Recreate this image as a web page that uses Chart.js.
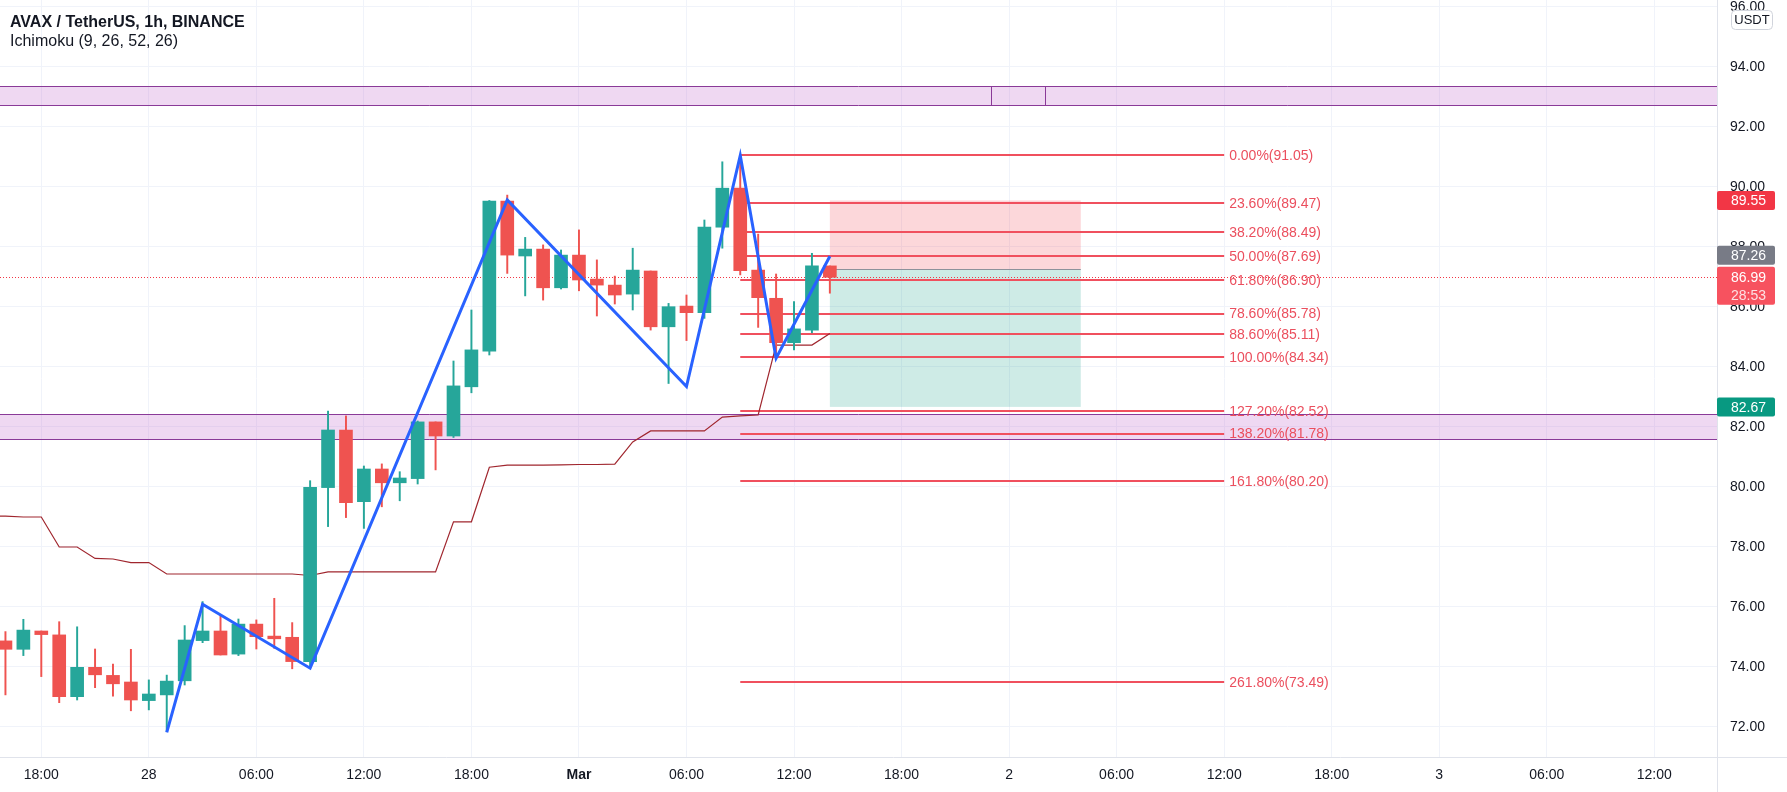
<!DOCTYPE html>
<html><head><meta charset="utf-8">
<script src="https://cdn.jsdelivr.net/npm/chart.js@4.4.0/dist/chart.umd.min.js"></script>
<style>html,body{margin:0;padding:0;background:#fff;overflow:hidden}canvas{display:block}</style>
</head><body>
<canvas id="c" width="1787" height="792"></canvas>
<script>
// ---------------- DATA ----------------
const chartTitle = 'AVAX / TetherUS, 1h, BINANCE';
const indicatorTitle = 'Ichimoku (9, 26, 52, 26)';
const quoteCurrency = 'USDT';

// hours relative to 27 Feb 18:00
const candleHours = [-2,-1,0,1,2,3,4,5,6,7,8,9,10,11,12,13,14,15,16,17,18,19,20,21,22,23,24,25,26,27,28,29,30,31,32,33,34,35,36,37,38,39,40,41,42,43,44];
const openPrices  = [74.87,74.59,75.20,75.07,73.01,73.99,73.72,73.50,72.88,73.07,73.54,74.88,75.20,74.43,75.43,75.03,74.99,74.18,79.98,81.90,79.51,80.60,80.14,80.28,82.17,81.70,83.34,84.53,89.53,87.70,87.93,86.64,87.73,86.93,86.73,86.43,87.20,85.34,86.03,85.81,88.66,89.96,87.23,86.29,84.81,85.23,87.37];
const highPrices  = [75.18,75.59,75.20,75.51,75.34,74.60,74.10,74.59,73.57,73.73,75.38,76.18,75.73,75.60,75.57,76.29,75.48,80.21,82.53,82.37,80.70,80.77,80.51,82.20,82.17,84.20,85.90,89.55,89.73,88.32,88.07,87.90,88.57,87.57,87.03,87.96,87.20,86.12,86.40,88.90,90.84,91.05,88.43,87.10,86.18,87.79,87.37];
const lowPrices   = [73.07,74.38,73.68,72.81,72.90,73.31,73.03,72.54,72.57,71.85,73.40,74.81,74.40,74.38,74.60,74.62,73.94,74.00,78.68,78.98,78.62,79.34,79.54,80.10,80.57,81.65,83.14,84.40,87.12,86.37,86.23,86.60,86.54,85.70,86.10,85.90,85.23,83.45,84.88,85.62,87.96,87.07,85.32,84.29,84.57,85.14,86.46];
const closePrices = [74.59,75.23,75.08,73.01,73.99,73.74,73.44,72.90,73.10,73.53,74.90,75.20,74.40,75.43,75.01,74.94,74.18,79.99,81.90,79.48,80.60,80.14,80.30,82.17,81.70,83.37,84.57,89.53,87.73,87.93,86.64,87.73,86.90,86.73,86.40,87.23,85.34,86.01,85.81,88.66,89.96,87.21,86.31,84.81,85.27,87.37,86.99];

const ichiHours  = [-3,-2,-1,0,1,2,3,4,5,6,7,8,9,10,11,12,13,14,15,16,17,18,19,20,21,22,23,24,25,26,27,28,29,30,31,32,33,34,35,36,37,38,39,40,41,42,43,44];
const ichiValues = [79.03,79.03,79.00,79.00,78.00,78.00,77.62,77.60,77.48,77.48,77.10,77.10,77.10,77.10,77.10,77.10,77.10,77.10,77.05,77.17,77.17,77.17,77.17,77.17,77.17,77.17,78.84,78.84,80.66,80.73,80.73,80.73,80.74,80.75,80.75,80.76,81.50,81.87,81.87,81.87,81.87,82.33,82.37,82.40,84.73,84.73,84.73,85.12];

const zigzagHours  = [7, 9, 15, 26, 36, 39, 41, 44];
const zigzagPrices = [71.82, 76.09, 73.96, 89.57, 83.35, 91.05, 84.29, 87.69];

const fibRatios = [0, 23.6, 38.2, 50, 61.8, 78.6, 88.6, 100, 127.2, 138.2, 161.8, 261.8];
const fibPrices = [91.05, 89.47, 88.49, 87.69, 86.90, 85.78, 85.11, 84.34, 82.52, 81.78, 80.20, 73.49];
const fibStartHour = 39, fibEndHour = 66;

const positionHours = [44, 58];
const stopPrice = 89.55, entryPrice = 87.26, targetPrice = 82.67;
const lastPrice = 86.99, countdownText = '28:53';

const zoneHigh = [93.37, 82.43];
const zoneLow  = [92.73, 81.59];
const zoneEdgeHours = [53, 56];

const timeTickHours  = [0,6,12,18,24,30,36,42,48,54,60,66,72,78,84,90];
const timeTickLabels = ['18:00','28','06:00','12:00','18:00','Mar','06:00','12:00','18:00','2','06:00','12:00','18:00','3','06:00','12:00'];
const priceTicks = [72,74,76,78,80,82,84,86,88,90,92,94,96];

// ---------------- STYLE / LAYOUT ----------------
const FONT = "'Liberation Sans', Arial, sans-serif";
const UP = '#26a69a', DOWN = '#ef5350', FIB = '#f0505e';
const X_MIN = -2.304, X_MAX = 93.50, Y_MIN = 71.0, Y_MAX = 96.233;

const candleColors = candleHours.map((h, i) => closePrices[i] >= openPrices[i] ? UP : DOWN);
const wickData = candleHours.map((h, i) => ({x: h, y: [lowPrices[i], highPrices[i]]}));
const bodyData = candleHours.map((h, i) => ({x: h, y: [openPrices[i], closePrices[i]]}));
const ichiData = ichiHours.map((h, i) => ({x: h, y: ichiValues[i]}));
const zzData = zigzagHours.map((h, i) => ({x: h, y: zigzagPrices[i]}));

function hline(ctx, x1, x2, y) { ctx.beginPath(); ctx.moveTo(x1, y); ctx.lineTo(x2, y); ctx.stroke(); }
function vline(ctx, x, y1, y2) { ctx.beginPath(); ctx.moveTo(x, y1); ctx.lineTo(x, y2); ctx.stroke(); }
const r5 = v => Math.round(v) + 0.5;

function roundRect(ctx, x, y, w, h, r) {
  ctx.beginPath();
  ctx.moveTo(x + r, y); ctx.lineTo(x + w - r, y); ctx.quadraticCurveTo(x + w, y, x + w, y + r);
  ctx.lineTo(x + w, y + h - r); ctx.quadraticCurveTo(x + w, y + h, x + w - r, y + h);
  ctx.lineTo(x + r, y + h); ctx.quadraticCurveTo(x, y + h, x, y + h - r);
  ctx.lineTo(x, y + r); ctx.quadraticCurveTo(x, y, x + r, y); ctx.closePath();
}

const overlay = {
  id: 'overlay',
  beforeDatasetsDraw(chart) {
    const {ctx, chartArea: a, scales: {x, y}} = chart;
    ctx.save();
    ctx.beginPath(); ctx.rect(a.left, a.top, a.right - a.left, a.bottom - a.top); ctx.clip();
    // purple zones
    zoneHigh.forEach((hi, i) => {
      const y1 = r5(y.getPixelForValue(hi)), y2 = r5(y.getPixelForValue(zoneLow[i]));
      ctx.fillStyle = 'rgba(190,100,205,0.25)';
      ctx.fillRect(a.left, y1, a.right - a.left, y2 - y1);
      ctx.strokeStyle = '#8a3a98'; ctx.lineWidth = 1;
      hline(ctx, a.left, a.right, y1); hline(ctx, a.left, a.right, y2);
      if (i === 0) zoneEdgeHours.forEach(h => vline(ctx, r5(x.getPixelForValue(h)), y1, y2));
    });
    // position tool
    const px1 = x.getPixelForValue(positionHours[0]), px2 = x.getPixelForValue(positionHours[1]);
    const ys = y.getPixelForValue(stopPrice), ye = y.getPixelForValue(entryPrice), yt = y.getPixelForValue(targetPrice);
    ctx.fillStyle = 'rgba(242,54,69,0.2)'; ctx.fillRect(px1, ys, px2 - px1, ye - ys);
    ctx.fillStyle = 'rgba(8,153,129,0.2)'; ctx.fillRect(px1, ye, px2 - px1, yt - ye);
    ctx.strokeStyle = '#8d929b'; ctx.lineWidth = 1; hline(ctx, px1, px2, r5(ye));
    // fib lines
    const fx1 = x.getPixelForValue(fibStartHour), fx2 = x.getPixelForValue(fibEndHour);
    ctx.strokeStyle = FIB; ctx.lineWidth = 2;
    fibPrices.forEach(p => hline(ctx, fx1, fx2, Math.round(y.getPixelForValue(p))));
    // current price dotted line
    ctx.strokeStyle = '#f23645'; ctx.lineWidth = 1; ctx.setLineDash([1, 2]);
    hline(ctx, a.left, a.right, r5(y.getPixelForValue(lastPrice)));
    ctx.setLineDash([]);
    ctx.restore();
  },
  afterDatasetsDraw(chart) {
    const {ctx, scales: {x, y}} = chart;
    ctx.save();
    ctx.font = '14px ' + FONT; ctx.fillStyle = '#eb4f5e'; ctx.textBaseline = 'middle'; ctx.textAlign = 'left';
    const fx2 = x.getPixelForValue(fibEndHour);
    fibRatios.forEach((r, i) => {
      ctx.fillText(r.toFixed(2) + '%(' + fibPrices[i].toFixed(2) + ')', fx2 + 5, y.getPixelForValue(fibPrices[i]) + 1);
    });
    ctx.restore();
  },
  afterDraw(chart) {
    const {ctx, chartArea: a, scales: {y}} = chart;
    ctx.save();
    // separators
    ctx.strokeStyle = '#e0e3eb'; ctx.lineWidth = 1;
    vline(ctx, a.right + 0.5, 0, chart.height);
    hline(ctx, 0, chart.width, a.bottom + 0.5);
    // USDT box
    ctx.fillStyle = '#ffffff'; roundRect(ctx, 1731, 10, 42, 20, 4); ctx.fill();
    ctx.strokeStyle = '#d1d4dc'; roundRect(ctx, 1731.5, 10.5, 41, 19, 4); ctx.stroke();
    ctx.fillStyle = '#131722'; ctx.font = '13px ' + FONT; ctx.textAlign = 'center'; ctx.textBaseline = 'middle';
    ctx.fillText(quoteCurrency, 1752, 20.5);
    // price tags
    const bx = a.right, bw = 58, bh = 19;
    const yLast = y.getPixelForValue(lastPrice);
    const lastTop = yLast - bh / 2 - 1;
    const tags = [
      {v: stopPrice, c: '#f23645'},
      {v: entryPrice, c: '#787b86', cap: lastTop - 2},
      {v: targetPrice, c: '#089981'}
    ];
    ctx.textAlign = 'left'; ctx.font = '14px ' + FONT;
    tags.forEach(t => {
      let top = y.getPixelForValue(t.v) - bh / 2;
      if (t.cap !== undefined && top + bh > t.cap) top = t.cap - bh;
      ctx.fillStyle = t.c; roundRect(ctx, bx, top, bw, bh, 2); ctx.fill();
      ctx.fillStyle = '#ffffff'; ctx.fillText(t.v.toFixed(2), 1731, top + bh / 2 + 1);
    });
    ctx.fillStyle = '#f7525f'; roundRect(ctx, bx, lastTop, bw, 38, 2); ctx.fill();
    ctx.fillStyle = '#ffffff';
    ctx.fillText(lastPrice.toFixed(2), 1731, yLast + 0.5);
    ctx.fillStyle = '#fde0e2';
    ctx.fillText(countdownText, 1731, yLast + 18.5);
    // titles
    ctx.fillStyle = '#131722'; ctx.textBaseline = 'alphabetic';
    ctx.font = 'bold 16px ' + FONT; ctx.fillText(chartTitle, 10, 27);
    ctx.font = '16px ' + FONT; ctx.fillText(indicatorTitle, 10, 46);
    ctx.restore();
  }
};

new Chart(document.getElementById('c'), {
  type: 'bar',
  data: {
    datasets: [
      {type: 'line', data: ichiData, borderColor: '#a0262e', borderWidth: 1.2, pointRadius: 0, tension: 0, order: 4},
      {type: 'bar', data: wickData, backgroundColor: candleColors, barThickness: 1.3, grouped: false, order: 3},
      {type: 'bar', data: bodyData, backgroundColor: candleColors, barThickness: 13, grouped: false, order: 2},
      {type: 'line', data: zzData, borderColor: '#2962ff', borderWidth: 3, pointRadius: 0, tension: 0, order: 1}
    ]
  },
  options: {
    responsive: false, animation: false, devicePixelRatio: 1,
    layout: {padding: 0},
    plugins: {legend: {display: false}, tooltip: {enabled: false}},
    scales: {
      x: {
        type: 'linear', position: 'bottom', min: X_MIN, max: X_MAX, offset: false, bounds: 'data',
        grid: {color: '#f0f3fa', drawTicks: false, offset: false}, border: {display: false},
        afterBuildTicks: s => { s.ticks = timeTickHours.map(v => ({value: v})); },
        afterFit: s => { s.height = 35; s.paddingLeft = 0; s.paddingRight = 0; },
        ticks: {
          autoSkip: false, maxRotation: 0, padding: 10, color: '#131722',
          font: c => ({family: FONT, size: 14, weight: timeTickLabels[c.index] === 'Mar' ? 'bold' : 'normal'}),
          callback: (v, i) => timeTickLabels[i]
        }
      },
      y: {
        type: 'linear', position: 'right', min: Y_MIN, max: Y_MAX, bounds: 'data',
        grid: {color: '#f0f3fa', drawTicks: false}, border: {display: false},
        afterBuildTicks: s => { s.ticks = priceTicks.map(v => ({value: v})); },
        afterFit: s => { s.width = 70; s.paddingTop = 0; s.paddingBottom = 0; },
        ticks: {padding: 13, color: '#131722', font: {family: FONT, size: 14}, callback: v => v.toFixed(2)}
      }
    }
  },
  plugins: [overlay]
});
</script>
</body></html>
